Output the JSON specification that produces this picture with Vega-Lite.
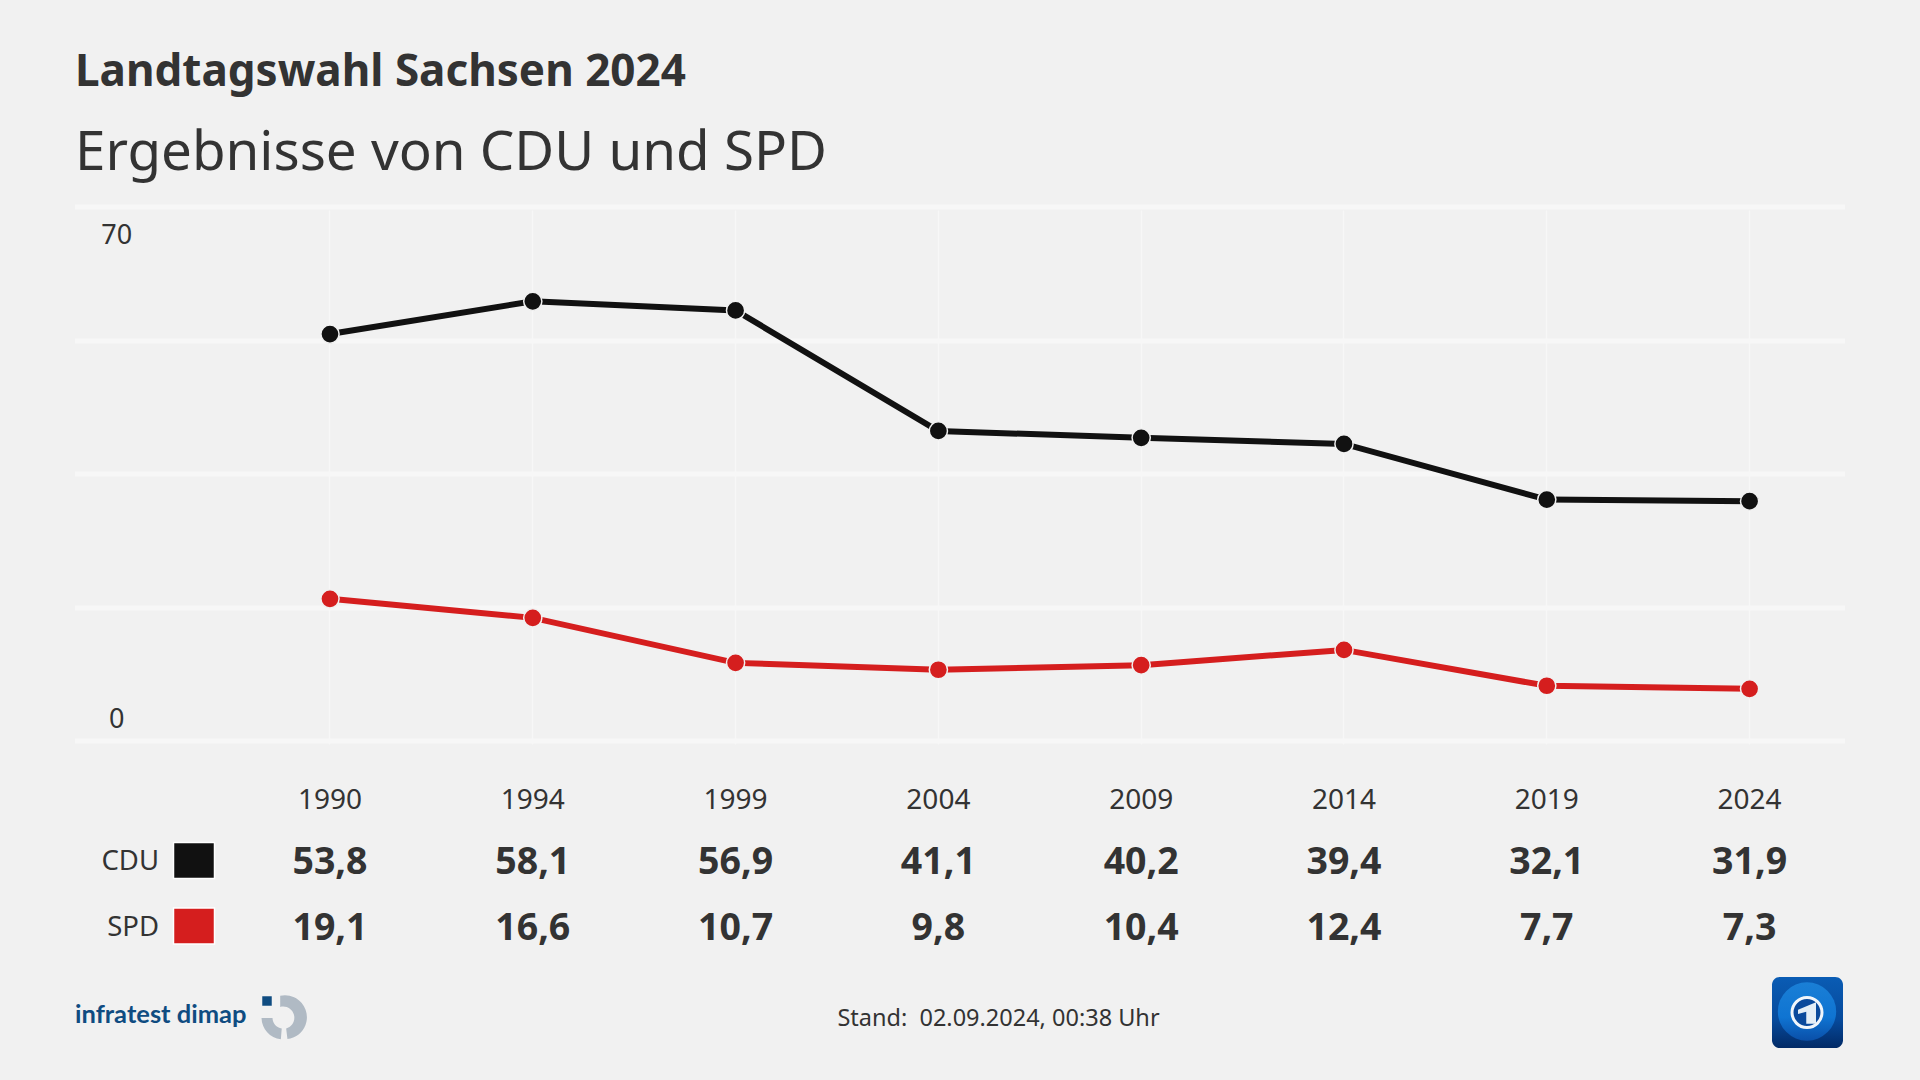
{
"$schema":"https://vega.github.io/schema/vega-lite/v6.json",
"autosize":{"type":"none"},
"padding":{"left":78.5,"top":210.5,"right":71.5,"bottom":335.5},
"width":1770,"height":534,
"background":"#f1f1f1",
"config":{"view":{"stroke":null},"font":"Noto Sans"},
"title":{"text":"Landtagswahl Sachsen 2024","subtitle":"Ergebnisse von CDU und SPD","anchor":"start","frame":"group","dx":-3.5,"offset":29.5,"font":"Noto Sans","fontSize":44,"fontWeight":"bold","color":"#333333","subtitleFont":"Noto Sans","subtitleFontSize":54.7,"subtitleColor":"#333333","subtitlePadding":32},
"datasets":{
"ergebnisse":[
{"Jahr":"1990","Partei":"CDU","Anteil":53.8,"Wert":"53,8"},{"Jahr":"1994","Partei":"CDU","Anteil":58.1,"Wert":"58,1"},{"Jahr":"1999","Partei":"CDU","Anteil":56.9,"Wert":"56,9"},{"Jahr":"2004","Partei":"CDU","Anteil":41.1,"Wert":"41,1"},{"Jahr":"2009","Partei":"CDU","Anteil":40.2,"Wert":"40,2"},{"Jahr":"2014","Partei":"CDU","Anteil":39.4,"Wert":"39,4"},{"Jahr":"2019","Partei":"CDU","Anteil":32.1,"Wert":"32,1"},{"Jahr":"2024","Partei":"CDU","Anteil":31.9,"Wert":"31,9"},
{"Jahr":"1990","Partei":"SPD","Anteil":19.1,"Wert":"19,1"},{"Jahr":"1994","Partei":"SPD","Anteil":16.6,"Wert":"16,6"},{"Jahr":"1999","Partei":"SPD","Anteil":10.7,"Wert":"10,7"},{"Jahr":"2004","Partei":"SPD","Anteil":9.8,"Wert":"9,8"},{"Jahr":"2009","Partei":"SPD","Anteil":10.4,"Wert":"10,4"},{"Jahr":"2014","Partei":"SPD","Anteil":12.4,"Wert":"12,4"},{"Jahr":"2019","Partei":"SPD","Anteil":7.7,"Wert":"7,7"},{"Jahr":"2024","Partei":"SPD","Anteil":7.3,"Wert":"7,3"}],
"parteien":[{"Partei":"CDU"},{"Partei":"SPD"}]
},
"data":{"name":"ergebnisse"},
"resolve":{"scale":{"x":"independent","y":"independent"}},
"layer":[
{"mark":{"type":"line","strokeWidth":6},
 "encoding":{
  "x":{"field":"Jahr","type":"nominal","title":null,"scale":{"type":"point","padding":0.8639,"align":0.7177},
   "axis":{"orient":"bottom","grid":true,"gridColor":"#f7f7f7","gridWidth":1.5,"domain":false,"ticks":false,"labelAngle":0,"labelBaseline":"middle","labelPadding":56,"labelFontSize":28,"labelColor":"#333333","labelFont":"Noto Sans","translate":0}},
  "y":{"field":"Anteil","type":"quantitative","title":null,"scale":{"domain":[0,70],"nice":false},
   "axis":{"values":[0,17.5,35,52.5,70],"grid":true,"gridColor":"#f7f7f7","gridWidth":5,"domain":false,"ticks":false,"translate":-3.5,"labelExpr":"datum.value==0||datum.value==70?datum.label:''","labelAlign":"center","labelBaseline":"middle","labelPadding":-41.7,"labelFontSize":27,"labelColor":"#333333","labelFont":"Noto Sans","labelOverlap":false,"labelFlush":false,"labelOffset":{"condition":{"test":"datum.value==70","value":29},"value":-21}}},
  "color":{"field":"Partei","type":"nominal","legend":null,"scale":{"domain":["CDU","SPD"],"range":["#111111","#d51e1e"]}}}},
{"mark":{"type":"point","filled":true,"size":331,"opacity":1,"stroke":"#f1f1f1","strokeWidth":1.5},
 "encoding":{
  "x":{"field":"Jahr","type":"nominal","scale":{"type":"point","padding":0.8639,"align":0.7177},"axis":null},
  "y":{"field":"Anteil","type":"quantitative","scale":{"domain":[0,70],"nice":false},"axis":null},
  "fill":{"field":"Partei","type":"nominal","legend":null,"scale":{"domain":["CDU","SPD"],"range":["#111111","#d51e1e"]}}}},
{"mark":{"type":"text","fontSize":37.5,"fontWeight":"bold","color":"#333333","font":"Noto Sans","baseline":"middle"},
 "encoding":{
  "x":{"field":"Jahr","type":"nominal","scale":{"type":"point","padding":0.8639,"align":0.7177},"axis":null},
  "y":{"field":"Partei","type":"nominal","scale":{"type":"point","padding":0,"domain":["CDU","SPD"],"range":[652,718]},"axis":null},
  "text":{"field":"Wert"}}},
{"data":{"name":"parteien"},
 "mark":{"type":"text","fontSize":27.5,"color":"#333333","font":"Noto Sans","align":"right","baseline":"middle"},
 "encoding":{
  "x":{"datum":"Name","type":"nominal","scale":{"type":"point","padding":0,"domain":["Name","Farbe"],"range":[80.5,115.5]},"axis":null},
  "y":{"field":"Partei","type":"nominal","scale":{"type":"point","padding":0,"domain":["CDU","SPD"],"range":[651,717]},"axis":null},
  "text":{"field":"Partei"}}},
{"data":{"name":"parteien"},
 "mark":{"type":"point","filled":true,"opacity":1,"size":1681,"shape":"M-1,-0.875H1V0.875H-1Z","stroke":"#ffffff","strokeWidth":1.5},
 "encoding":{
  "x":{"datum":"Farbe","type":"nominal","scale":{"type":"point","padding":0,"domain":["Name","Farbe"],"range":[80.5,115.5]},"axis":null},
  "y":{"field":"Partei","type":"nominal","scale":{"type":"point","padding":0,"domain":["CDU","SPD"],"range":[650,715.5]},"axis":null},
  "fill":{"field":"Partei","type":"nominal","legend":null,"scale":{"domain":["CDU","SPD"],"range":["#111111","#d51e1e"]}}}},
{"data":{"values":[{"Text":"infratest dimap"}]},
 "mark":{"type":"text","fontSize":25.5,"fontWeight":"bold","color":"#0f4c81","font":"Lato","align":"left","baseline":"middle"},
 "encoding":{
  "x":{"field":"Text","type":"nominal","scale":{"type":"point","range":[-3.5,-3.5]},"axis":null},
  "y":{"field":"Text","type":"nominal","scale":{"type":"point","range":[804,804]},"axis":null},
  "text":{"field":"Text"}}},
{"data":{"values":[{"Text":"Stand:\u00a0 02.09.2024, 00:38 Uhr"}]},
 "mark":{"type":"text","fontSize":23.5,"color":"#333333","font":"Noto Sans","align":"center","baseline":"middle"},
 "encoding":{
  "x":{"field":"Text","type":"nominal","scale":{"type":"point","range":[920,920]},"axis":null},
  "y":{"field":"Text","type":"nominal","scale":{"type":"point","range":[808.5,808.5]},"axis":null},
  "text":{"field":"Text"}}},
{"data":{"values":[{"Teil":"Ring"}]},
 "mark":{"type":"point","filled":true,"opacity":1,"size":1936,"fill":"#b0bac4","strokeWidth":0,"shape":"M-0.15,-0.99A1,1 0 1 1 0.18,0.98L0.12,0.5A0.5,0.5 0 0 0 -0.15,-0.48ZM-0.12,0.99A1,1 0 0 1 -1,0.02L-0.5,0.02A0.5,0.5 0 0 0 -0.08,0.5Z"},
 "encoding":{
  "x":{"field":"Teil","type":"nominal","scale":{"type":"point","range":[205,205]},"axis":null},
  "y":{"field":"Teil","type":"nominal","scale":{"type":"point","range":[807,807]},"axis":null}}},
{"data":{"values":[{"Teil":"Quadrat"}]},
 "mark":{"type":"square","opacity":1,"size":90,"fill":"#0f4c81","strokeWidth":0},
 "encoding":{
  "x":{"field":"Teil","type":"nominal","scale":{"type":"point","range":[188.5,188.5]},"axis":null},
  "y":{"field":"Teil","type":"nominal","scale":{"type":"point","range":[790.5,790.5]},"axis":null}}},
{"data":{"values":[{"Teil":"Kachel"}]},
 "mark":{"type":"point","filled":true,"opacity":1,"size":5041,"strokeWidth":0,"shape":"M-0.78,-1H0.78A0.22,0.22 0 0 1 1,-0.78V0.78A0.22,0.22 0 0 1 0.78,1H-0.78A0.22,0.22 0 0 1 -1,0.78V-0.78A0.22,0.22 0 0 1 -0.78,-1Z","fill":{"gradient":"linear","x1":0,"y1":0,"x2":0,"y2":1,"stops":[{"offset":0,"color":"#0a5cb4"},{"offset":0.6,"color":"#064a9c"},{"offset":1,"color":"#022a66"}]}},
 "encoding":{
  "x":{"field":"Teil","type":"nominal","scale":{"type":"point","range":[1729,1729]},"axis":null},
  "y":{"field":"Teil","type":"nominal","scale":{"type":"point","range":[802,802]},"axis":null}}},
{"data":{"values":[{"Teil":"Globus"}]},
 "mark":{"type":"circle","opacity":1,"size":3400,"strokeWidth":0,"fill":{"gradient":"linear","x1":0,"y1":0,"x2":0,"y2":1,"stops":[{"offset":0,"color":"#1a7fd6"},{"offset":0.6,"color":"#0f74d2"},{"offset":1,"color":"#0a4fa8"}]}},
 "encoding":{
  "x":{"field":"Teil","type":"nominal","scale":{"type":"point","range":[1728.5,1728.5]},"axis":null},
  "y":{"field":"Teil","type":"nominal","scale":{"type":"point","range":[801,801]},"axis":null}}},
{"data":{"values":[{"Teil":"Kreis"}]},
 "mark":{"type":"circle","opacity":1,"size":900,"fill":"#0a4a9c","stroke":"#f1f6fb","strokeWidth":3},
 "encoding":{
  "x":{"field":"Teil","type":"nominal","scale":{"type":"point","range":[1728.5,1728.5]},"axis":null},
  "y":{"field":"Teil","type":"nominal","scale":{"type":"point","range":[802,802]},"axis":null}}},
{"data":{"values":[{"Teil":"Eins"}]},
 "mark":{"type":"point","filled":true,"opacity":1,"size":900,"fill":"#e4eef6","strokeWidth":0,"shape":"M-0.6,-0.18L0.6,-0.68V0.75H-0.05V-0.05L-0.6,0.1Z"},
 "encoding":{
  "x":{"field":"Teil","type":"nominal","scale":{"type":"point","range":[1728.5,1728.5]},"axis":null},
  "y":{"field":"Teil","type":"nominal","scale":{"type":"point","range":[802,802]},"axis":null}}}
]
}
